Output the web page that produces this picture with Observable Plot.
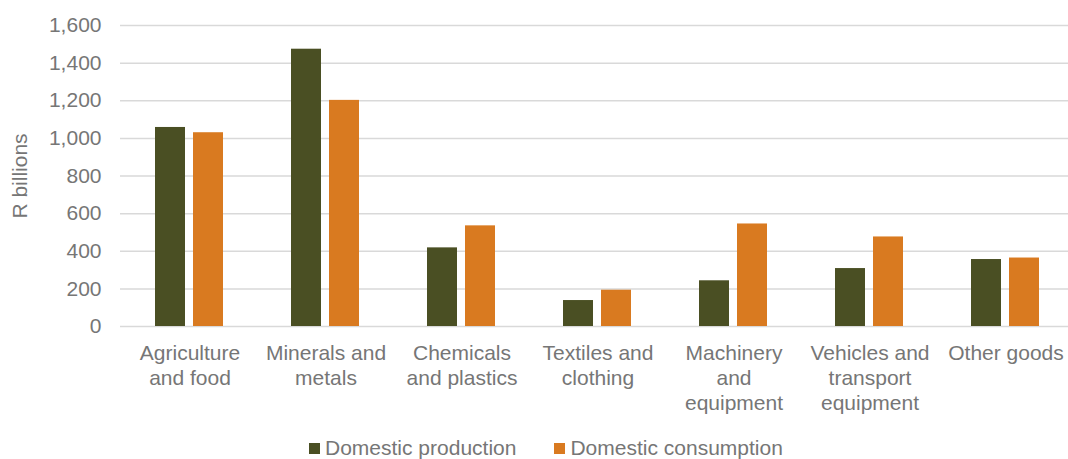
<!DOCTYPE html>
<html><head><meta charset="utf-8">
<script src="https://cdn.jsdelivr.net/npm/d3@7"></script>
<script src="https://cdn.jsdelivr.net/npm/@observablehq/plot@0.6"></script>
<style>
html,body{margin:0;padding:0;background:#fff;overflow:hidden;width:1068px;height:459px;}
#chart{position:relative;width:1075px;height:436px}
#chart svg{display:block;position:absolute;left:0;top:0}
.legend{display:flex;align-items:center;font-family:"Liberation Sans",Arial,sans-serif;font-size:21px;color:#767676;line-height:24px;padding-left:309px;white-space:nowrap}
.legend .item{display:inline-flex;align-items:center;margin-right:38px}
.legend .sw{display:inline-block;width:11px;height:11px;margin-right:5px}
</style>
</head><body>
<div id="chart"></div>
<div class="legend" id="legend"></div>
<script>
const categories = ["Agriculture and food","Minerals and metals","Chemicals and plastics","Textiles and clothing","Machinery and equipment","Vehicles and transport equipment","Other goods"];
const tickLabels = ["Agriculture\nand food","Minerals and\nmetals","Chemicals\nand plastics","Textiles and\nclothing","Machinery\nand\nequipment","Vehicles and\ntransport\nequipment","Other goods"];
const series = ["Domestic production","Domestic consumption"];
const production = [1058, 1474, 418, 138, 243, 308, 356];
const consumption = [1030, 1202, 535, 193, 545, 476, 364];
const yTicks = [0, 200, 400, 600, 800, 1000, 1200, 1400, 1600];
const colors = ["#4a4f23", "#d97a20"];

const rows = categories.flatMap((c, i) => [
  {category: c, series: series[0], value: production[i]},
  {category: c, series: series[1], value: consumption[i]}
]);

const common = {
  width: 1075, height: 436,
  marginLeft: 120, marginRight: 0, marginTop: 25, marginBottom: 110,
  style: {fontFamily: "'Liberation Sans', Arial, sans-serif", fontSize: "21px", color: "#767676", background: "transparent"},
  y: {domain: [0, 1600], axis: null}
};

// Background layer: gridlines and y axis spanning the full frame
const grid = Plot.plot({
  ...common,
  x: {axis: null},
  marks: [
    Plot.ruleY(yTicks, {stroke: "#d9d9d9", strokeWidth: 1.5}),
    Plot.axisY({ticks: yTicks, tickFormat: d3.format(","), tickSize: 0, tickPadding: 19, label: "R billions", labelAnchor: "center", labelArrow: "none", labelOffset: 108, fontSize: 21, fill: "#767676"})
  ]
});

// Foreground layer: grouped bars
const bars = Plot.plot({
  ...common,
  fx: {domain: categories, paddingInner: 0.494, paddingOuter: 0.247, axis: null, label: null},
  x: {domain: series, paddingInner: 0.208, paddingOuter: 0, axis: null},
  color: {domain: series, range: colors},
  marks: [
    Plot.barY(rows, {fx: "category", x: "series", y: "value", fill: "series"}),
    Plot.axisFx({anchor: "bottom", tickSize: 0, tickPadding: 16, tickFormat: d => tickLabels[categories.indexOf(d)], lineHeight: 1.19, label: null, fontSize: 21, fill: "#767676"})
  ]
});
const chart = document.getElementById("chart");
chart.appendChild(grid);
chart.appendChild(bars);

const legend = document.getElementById("legend");
series.forEach((s, i) => {
  const item = document.createElement("span");
  item.className = "item";
  const sw = document.createElement("span");
  sw.className = "sw";
  sw.style.background = colors[i];
  item.appendChild(sw);
  item.appendChild(document.createTextNode(s));
  legend.appendChild(item);
});
</script>
</body></html>
